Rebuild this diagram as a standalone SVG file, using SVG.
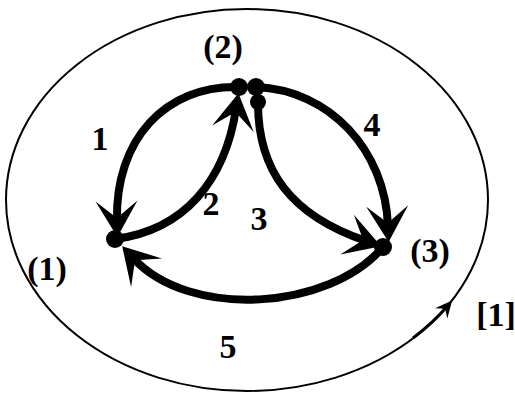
<svg xmlns="http://www.w3.org/2000/svg" width="515" height="393" viewBox="0 0 515 393">
<style>
.lbl{font-family:"Liberation Serif","Times New Roman",serif;font-weight:bold;font-size:34px;fill:#000;text-anchor:middle}
.edge{fill:none;stroke:#000;stroke-width:8}
.dot{fill:#000}
</style>
<defs>
<marker id="ah" markerUnits="userSpaceOnUse" markerWidth="60" markerHeight="60" refX="30" refY="30" orient="auto">
<path d="M46,30 L10,9 L27,30 L10,51 Z" fill="#000"/>
</marker>
<marker id="ahs" markerUnits="userSpaceOnUse" markerWidth="30" markerHeight="30" refX="15" refY="15" orient="auto">
<path d="M21,15 L4,7 L10,15 L4,23 Z" fill="#000"/>
</marker>
</defs>
<rect width="515" height="393" fill="#fff"/>
<g id="boundary">
<ellipse cx="247" cy="200" rx="241" ry="191" fill="none" stroke="#000" stroke-width="2"/>
<path d="M413,338 A241,191 0 0 0 448.3,305" fill="none" stroke="#000" stroke-width="3" marker-end="url(#ahs)"/>
</g>
<g id="connectors">
<path id="e1" class="edge" d="M239,87 C165,85 115,140 117,221" marker-end="url(#ah)"/>
<path id="e2" class="edge" d="M115,239 C185,230 225,180 236,109" marker-end="url(#ah)"/>
<path id="e4" class="edge" d="M256,87 C330,90 385,150 388,226" marker-end="url(#ah)"/>
<path id="e3" class="edge" d="M258,103 C258,170 290,215 366,241" marker-end="url(#ah)"/>
<path id="e5" class="edge" d="M383,247 C330,310 190,320 133,258" marker-end="url(#ah)"/>
</g>
<g id="node1">
<circle class="dot" cx="115" cy="239" r="9"/>
<text class="lbl" x="47" y="280">(1)</text>
</g>
<g id="node2">
<circle class="dot" cx="239" cy="87" r="9"/>
<circle class="dot" cx="256" cy="87" r="9"/>
<circle class="dot" cx="258" cy="102" r="8"/>
<text class="lbl" x="223" y="58">(2)</text>
</g>
<g id="node3">
<circle class="dot" cx="383" cy="247" r="9"/>
<text class="lbl" x="430" y="262">(3)</text>
</g>
<g id="labels">
<text class="lbl" x="100" y="150">1</text>
<text class="lbl" x="211" y="215">2</text>
<text class="lbl" x="259" y="230">3</text>
<text class="lbl" x="372" y="136">4</text>
<text class="lbl" x="228" y="358">5</text>
<text class="lbl" x="496" y="326">[1]</text>
</g>
</svg>
